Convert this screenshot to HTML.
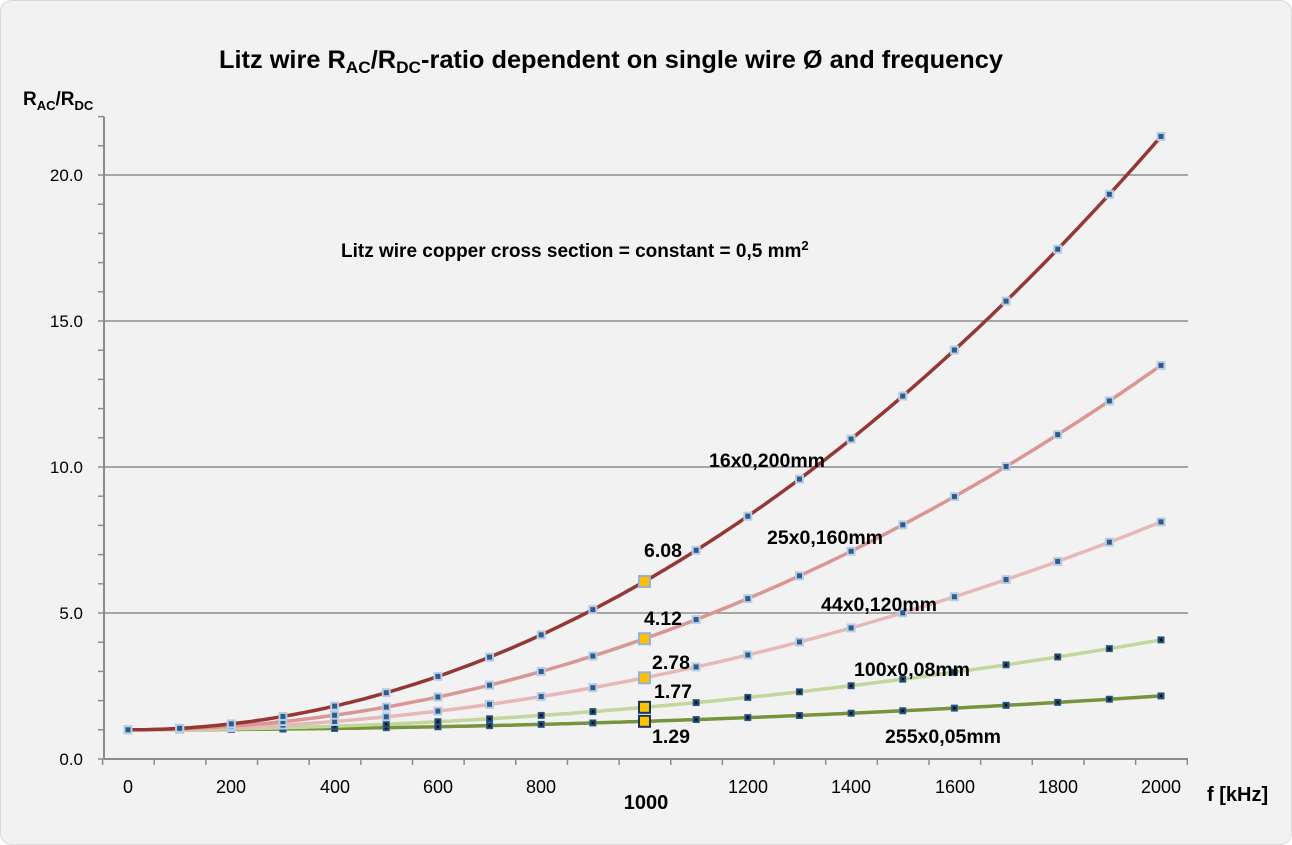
<!DOCTYPE html>
<html><head><meta charset="utf-8">
<style>
html,body{margin:0;padding:0;background:#fff;}
#c{position:absolute;left:0;top:0;width:1290px;height:843px;background:#f2f2f2;border:1px solid #d9d9d9;border-radius:12px;overflow:hidden;}
svg{position:absolute;left:0;top:0;font-family:"Liberation Sans",Calibri,sans-serif;}
.b{font-weight:bold;}
</style></head><body>
<div id="c">
<svg width="1292" height="845" id="s">
<g id="grid"></g>
<g id="curves"></g>
<g id="marks"></g>
<text x="610" y="67" text-anchor="middle" class="b" font-size="25" fill="#000" textLength="784" lengthAdjust="spacingAndGlyphs">Litz wire R<tspan font-size="17" dy="5">AC</tspan><tspan dy="-5">/R</tspan><tspan font-size="17" dy="5">DC</tspan><tspan dy="-5">-ratio dependent on single wire Ø and frequency</tspan></text>
<text x="22" y="104" class="b" font-size="19">R<tspan font-size="13" dy="5">AC</tspan><tspan dy="-5">/R</tspan><tspan font-size="13" dy="5">DC</tspan></text>
<text x="340" y="256" class="b" font-size="19">Litz wire copper cross section = constant = 0,5 mm<tspan font-size="13" dy="-7">2</tspan></text>
<g font-size="17" fill="#000" text-anchor="end">
<text x="82" y="180">20.0</text>
<text x="82" y="326">15.0</text>
<text x="82" y="472">10.0</text>
<text x="82" y="618">5.0</text>
<text x="82" y="764">0.0</text>
</g>
<g font-size="18" fill="#000" text-anchor="middle">
<text x="127" y="792">0</text>
<text x="230" y="792">200</text>
<text x="334" y="792">400</text>
<text x="437" y="792">600</text>
<text x="540" y="792">800</text>
<text x="747" y="792">1200</text>
<text x="850" y="792">1400</text>
<text x="954" y="792">1600</text>
<text x="1057" y="792">1800</text>
<text x="1160" y="792">2000</text>
</g>
<text x="645" y="808" text-anchor="middle" class="b" font-size="20">1000</text>
<text x="1206" y="800" class="b" font-size="20">f  [kHz]</text>
<g class="b" font-size="19.5">
<text x="708" y="466">16x0,200mm</text>
<text x="766" y="543">25x0,160mm</text>
<text x="820" y="610">44x0,120mm</text>
<text x="853" y="675">100x0,08mm</text>
<text x="884" y="742">255x0,05mm</text>
<text x="643" y="556">6.08</text>
<text x="643" y="624">4.12</text>
<text x="651" y="668">2.78</text>
<text x="653" y="697">1.77</text>
<text x="651" y="742">1.29</text>
</g>
</svg>
</div>
<script>
var NS="http://www.w3.org/2000/svg";
function el(p,t,a){var e=document.createElementNS(NS,t);for(var k in a)e.setAttribute(k,a[k]);document.getElementById(p).appendChild(e);return e;}
var X=function(f){return 127+f*0.5165;},Y=function(v){return 758-v*29.2;};
[5,10,15,20].forEach(function(v){el("grid","line",{x1:103,x2:1187,y1:Y(v),y2:Y(v),stroke:"#8c8c8c","stroke-width":1.5});});
el("grid","line",{x1:103,x2:1187,y1:758,y2:758,stroke:"#8c8c8c","stroke-width":2});
el("grid","line",{x1:103,x2:103,y1:Y(22),y2:758,stroke:"#8c8c8c","stroke-width":2});
for(var i=0;i<=22;i++)el("grid","line",{x1:97,x2:103,y1:Y(i),y2:Y(i),stroke:"#8c8c8c","stroke-width":1.5});
for(var i=0;i<=21;i++){var x=101.6+i*51.65;el("grid","line",{x1:x,x2:x,y1:758,y2:764,stroke:"#8c8c8c","stroke-width":1.5});}
var S=[[0.29,"#77933c","#17375e"],[0.77,"#c3d69b","#17375e"],[1.78,"#e6b9b8","#b9cde5"],[3.12,"#d99694","#b9cde5"],[5.08,"#953735","#b9cde5"]];
S.forEach(function(s){var d="";for(var f=0;f<=2000;f+=10){d+=(f?"L":"M")+X(f).toFixed(1)+","+Y(1+s[0]*f*f/1e6).toFixed(1);}
el("curves","path",{d:d,fill:"none",stroke:s[1],"stroke-width":3.5});});
S.forEach(function(s){var dark=s[2]=="#17375e";for(var f=0;f<=2000;f+=100){var x=X(f),y=Y(1+s[0]*f*f/1e6);
if(f==1000){el("marks","rect",{x:x-5.5,y:y-5.5,width:11,height:11,fill:"#ffc000",stroke:dark?"#17375e":"#95b3d7","stroke-width":2});}
else if(dark){el("marks","rect",{x:x-3,y:y-3,width:6,height:6,fill:"#1f3f66",stroke:"#2e5c8a","stroke-width":1});
el("marks","rect",{x:x-1,y:y-1,width:2,height:2,fill:"#000"});}
else{el("marks","rect",{x:x-3.5,y:y-3.5,width:7,height:7,fill:"#2e5c8a",stroke:s[2],"stroke-width":2});}}});
</script>
</body></html>
